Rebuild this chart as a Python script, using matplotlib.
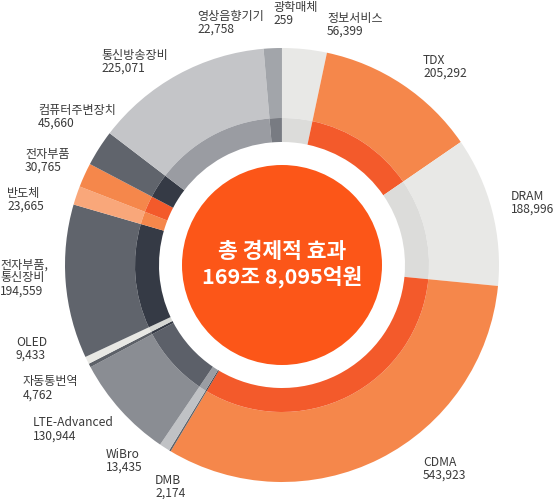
import matplotlib
matplotlib.use('Agg')
import matplotlib.pyplot as plt

plt.rcParams['font.family'] = ['Noto Sans CJK KR', 'DejaVu Sans']

# 항목별 경제적 효과 (억원), 12시 방향에서 시계방향
names = ['정보서비스', 'TDX', 'DRAM', 'CDMA', 'DMB', 'WiBro', 'LTE-Advanced',
         '자동통번역', 'OLED', '전자부품,\n통신장비', '반도체', '전자부품',
         '컴퓨터주변장치', '통신방송장비', '영상음향기기', '광학매체']
values = [56399, 205292, 188996, 543923, 2174, 13435, 130944,
          4762, 9433, 194559, 23665, 30765,
          45660, 225071, 22758, 259]

outer_colors = ['#e8e8e6', '#f5874b', '#e8e8e6', '#f5874b', '#5d6168', '#c0c2c5', '#8a8d93',
                '#5d6168', '#e8e8e4', '#60646c', '#f9a77a', '#f5874b',
                '#60646c', '#c4c5c8', '#a2a5aa', '#6b6f75']
inner_colors = ['#dcdcda', '#f35a2b', '#dcdcda', '#f35a2b', '#3c4049', '#9a9da3', '#5c6069',
                '#353a45', '#d5d6d3', '#353a45', '#f5874b', '#f35a2b',
                '#353a45', '#9a9ca2', '#787b82', '#50545b']

# 라벨 위치 (픽셀, 왼쪽 x / 첫 줄 중심 y)
label_pos = [(327, 18), (423, 60), (511, 196), (423, 462), (155, 480), (106, 454), (33, 423),
             (23, 382), (16, 342), (0, 265), (7, 193), (25, 154),
             (38, 110), (101, 55), (197, 16), (273, 7)]

W, H = 557, 499
cx, cy = 282, H - 265

fig = plt.figure(figsize=(W / 100, H / 100), dpi=100)
ax = fig.add_axes([0, 0, 1, 1])

ax.pie(values, colors=outer_colors, radius=217, center=(cx, cy), startangle=90,
       counterclock=False, wedgeprops=dict(width=70, linewidth=0))
ax.pie(values, colors=inner_colors, radius=147, center=(cx, cy), startangle=90,
       counterclock=False, wedgeprops=dict(width=24, linewidth=0))
ax.add_patch(plt.Circle((cx, cy), 100, color='#fc5618', lw=0))

ax.text(cx, cy + 13, '총 경제적 효과', color='white', fontsize=15.5,
        ha='center', va='center', fontweight='bold')
ax.text(cx, cy - 12, '169조 8,095억원', color='white', fontsize=15.5,
        ha='center', va='center', fontweight='bold')

for name, val, (px, py) in zip(names, values, label_pos):
    lines = name.split('\n') + [f'{val:,}']
    for i, line in enumerate(lines):
        ax.text(px, H - (py + 13 * i), line, fontsize=8.7, color='#3a3a3a',
                ha='left', va='center')

ax.set_xlim(0, W)
ax.set_ylim(0, H)
ax.set_aspect('equal')
ax.axis('off')

fig.savefig('out.png', dpi=100)
